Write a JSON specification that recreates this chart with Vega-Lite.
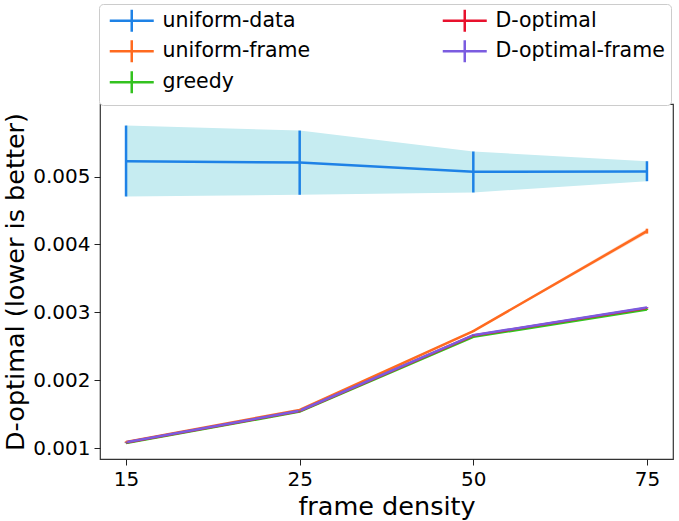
{
  "$schema": "https://vega.github.io/schema/vega-lite/v6.json",
  "width": 573,
  "height": 355,
  "autosize": "none",
  "padding": {"left": 100, "top": 104, "right": 6, "bottom": 62},
  "background": "white",
  "config": {
    "font": "DejaVu Sans",
    "view": {"stroke": "#333333", "strokeWidth": 1.2},
    "axis": {"grid": false, "domain": false, "tickColor": "#222222", "tickSize": 6, "labelColor": "black", "titleColor": "black", "labelFont": "DejaVu Sans", "titleFont": "DejaVu Sans", "titleFontWeight": "normal", "labelFontSize": 20, "titleFontSize": 25.5},
    "legend": {
      "title": null, "orient": "none", "legendX": -1, "legendY": -100, "columns": 2,
      "padding": 6, "strokeColor": "#cccccc", "fillColor": "white", "cornerRadius": 4,
      "symbolType": "M-1,0H7M3,-2V2", "symbolSize": 121, "symbolStrokeWidth": 2.5, "symbolOpacity": 1,
      "labelFontSize": 20.5, "labelFont": "DejaVu Sans", "labelColor": "black", "labelOffset": 37,
      "columnPadding": 126, "rowPadding": -2, "labelLimit": 300
    }
  },
  "data": {
    "values": [
      {"series": "uniform-data", "density": 15, "mean": 0.005225, "lo": 0.004706, "hi": 0.005750},
      {"series": "uniform-data", "density": 25, "mean": 0.005206, "lo": 0.004731, "hi": 0.005676},
      {"series": "uniform-data", "density": 50, "mean": 0.005069, "lo": 0.004765, "hi": 0.005368},
      {"series": "uniform-data", "density": 75, "mean": 0.005074, "lo": 0.004931, "hi": 0.005225},
      {"series": "uniform-frame", "density": 15, "mean": 0.001095, "lo": 0.001088, "hi": 0.001102},
      {"series": "uniform-frame", "density": 25, "mean": 0.001565, "lo": 0.001555, "hi": 0.001575},
      {"series": "uniform-frame", "density": 50, "mean": 0.002725, "lo": 0.002712, "hi": 0.002738},
      {"series": "uniform-frame", "density": 75, "mean": 0.004196, "lo": 0.004160, "hi": 0.004232},
      {"series": "greedy", "density": 15, "mean": 0.001080, "lo": 0.001076, "hi": 0.001084},
      {"series": "greedy", "density": 25, "mean": 0.001540, "lo": 0.001535, "hi": 0.001545},
      {"series": "greedy", "density": 50, "mean": 0.002640, "lo": 0.002634, "hi": 0.002646},
      {"series": "greedy", "density": 75, "mean": 0.003044, "lo": 0.003036, "hi": 0.003052},
      {"series": "D-optimal", "density": 15, "mean": 0.001085, "lo": 0.001081, "hi": 0.001089},
      {"series": "D-optimal", "density": 25, "mean": 0.001550, "lo": 0.001545, "hi": 0.001555},
      {"series": "D-optimal", "density": 50, "mean": 0.002660, "lo": 0.002654, "hi": 0.002666},
      {"series": "D-optimal", "density": 75, "mean": 0.003065, "lo": 0.003057, "hi": 0.003073},
      {"series": "D-optimal-frame", "density": 15, "mean": 0.001088, "lo": 0.001084, "hi": 0.001092},
      {"series": "D-optimal-frame", "density": 25, "mean": 0.001553, "lo": 0.001548, "hi": 0.001558},
      {"series": "D-optimal-frame", "density": 50, "mean": 0.002665, "lo": 0.002659, "hi": 0.002671},
      {"series": "D-optimal-frame", "density": 75, "mean": 0.003072, "lo": 0.003064, "hi": 0.003080}
    ]
  },
  "encoding": {
    "x": {
      "field": "density", "type": "ordinal",
      "scale": {"type": "point", "padding": 0.15},
      "axis": {"title": "frame density", "labelAngle": 0, "labelPadding": 4, "titlePadding": 5}
    }
  },
  "layer": [
    {
      "transform": [{"filter": "datum.series === 'uniform-data'"}],
      "mark": {"type": "area", "color": "#c6ecf1", "opacity": 1},
      "encoding": {
        "y": {"field": "lo", "type": "quantitative", "scale": {"domain": [0.000843, 0.006067], "nice": false, "zero": false},
          "axis": {"title": "D-optimal (lower is better)", "values": [0.001, 0.002, 0.003, 0.004, 0.005], "format": ".3f", "labelPadding": 4, "titlePadding": 4}},
        "y2": {"field": "hi"}
      }
    },
    {
      "transform": [{"filter": "datum.series !== 'uniform-data'"}],
      "mark": {"type": "area", "fillOpacity": 0.25},
      "encoding": {
        "y": {"field": "lo", "type": "quantitative"},
        "y2": {"field": "hi"},
        "color": {"field": "series", "type": "nominal"}
      }
    },
    {
      "mark": {"type": "line", "strokeWidth": 2.5},
      "encoding": {
        "y": {"field": "mean", "type": "quantitative"},
        "color": {
          "field": "series", "type": "nominal",
          "scale": {
            "domain": ["uniform-data", "uniform-frame", "greedy", "D-optimal", "D-optimal-frame"],
            "range": ["#1e82e6", "#ff6a1f", "#33c21f", "#e8112d", "#7b5ce0"]
          }
        }
      }
    },
    {
      "mark": {"type": "rule", "strokeWidth": 2.5},
      "encoding": {
        "y": {"field": "lo", "type": "quantitative"},
        "y2": {"field": "hi"},
        "color": {"field": "series", "type": "nominal"}
      }
    }
  ]
}
